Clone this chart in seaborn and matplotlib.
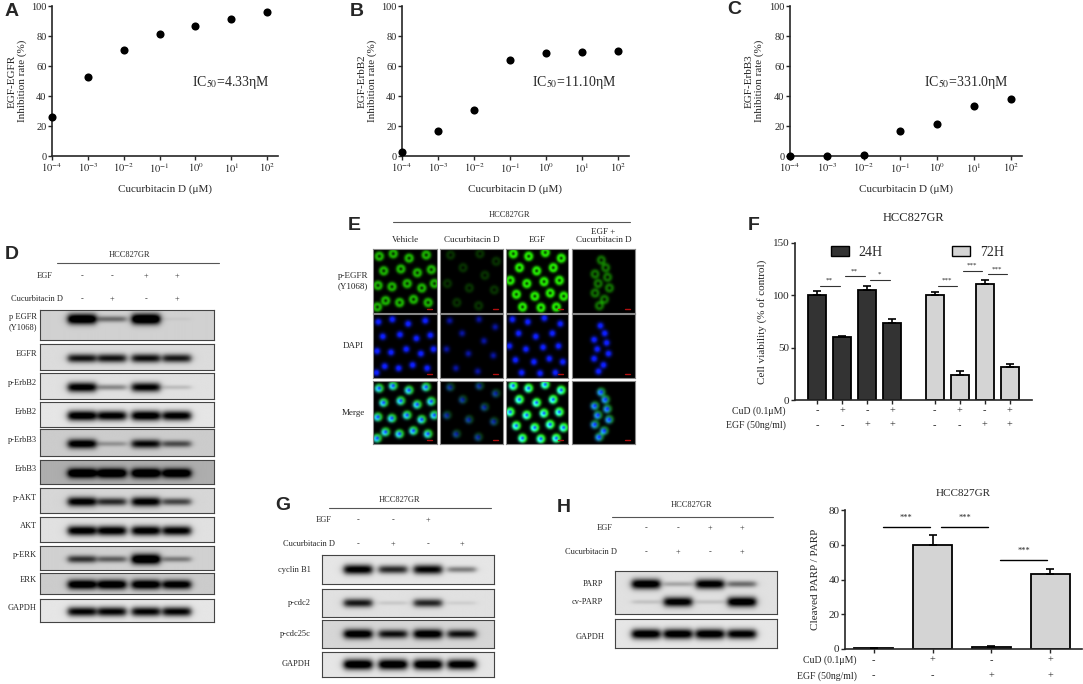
import numpy as np
import pandas as pd
import matplotlib
matplotlib.use('Agg')
import matplotlib.pyplot as plt
import matplotlib.transforms as mtransforms
import seaborn as sns
from matplotlib.patches import Patch

# ---------------- values ----------------
dose_ticks = ['$10^{-4}$', '$10^{-3}$', '$10^{-2}$', '$10^{-1}$', '$10^{0}$', '$10^{1}$', '$10^{2}$']
egfr_inhib = [26, 53, 71, 81.5, 87, 91.5, 96]
erbb2_inhib = [3, 16.5, 31, 64, 68.5, 69.5, 70]
erbb3_inhib = [0, 0, 1, 17, 21.5, 33.5, 38]
ic50_text = ['IC$_{50}$=4.33ηM', 'IC$_{50}$=11.10ηM', 'IC$_{50}$=331.0ηM']
dose_ylabels = ['EGF-EGFR\nInhibition rate (%)', 'EGF-ErbB2\nInhibition rate (%)',
                'EGF-ErbB3\nInhibition rate (%)']

# blot D: band darkness per lane (0 = none, 1 = black)
d_rows = ['p EGFR\n(Y1068)', 'EGFR', 'p-ErbB2', 'ErbB2', 'p-ErbB3', 'ErbB3',
          'p-AKT', 'AKT', 'p-ERK', 'ERK', 'GAPDH']
d_bands = [[0.95, 0.35, 1.0, 0.03],
           [0.7, 0.7, 0.72, 0.68],
           [0.85, 0.3, 0.8, 0.12],
           [0.9, 0.85, 0.9, 0.85],
           [0.8, 0.2, 0.7, 0.45],
           [0.85, 0.85, 0.85, 0.82],
           [0.8, 0.6, 0.8, 0.5],
           [0.85, 0.85, 0.85, 0.82],
           [0.55, 0.4, 0.95, 0.3],
           [0.85, 0.85, 0.85, 0.8],
           [0.8, 0.8, 0.8, 0.8]]
d_bg = [0.82, 0.86, 0.88, 0.9, 0.8, 0.68, 0.84, 0.88, 0.82, 0.8, 0.9]
egf_signs = ['-', '-', '+', '+']
cud_signs = ['-', '+', '-', '+']

# immunofluorescence E: cell centres per condition, p-EGFR / DAPI strength
e_conditions = ['Vehicle', 'Cucurbitacin D', 'EGF', 'EGF +\nCucurbitacin D']
e_rows = ['p-EGFR\n(Y1068)', 'DAPI', 'Merge']
e_cells = [
    [(0.08, 0.12), (0.30, 0.08), (0.55, 0.15), (0.82, 0.10), (0.15, 0.35), (0.42, 0.32),
     (0.68, 0.38), (0.90, 0.33), (0.06, 0.58), (0.28, 0.60), (0.52, 0.55), (0.75, 0.62),
     (0.95, 0.55), (0.18, 0.82), (0.40, 0.85), (0.62, 0.80), (0.85, 0.85), (0.05, 0.92)],
    [(0.15, 0.10), (0.62, 0.08), (0.88, 0.20), (0.35, 0.30), (0.70, 0.42), (0.10, 0.55),
     (0.45, 0.62), (0.85, 0.65), (0.25, 0.85), (0.60, 0.90)],
    [(0.10, 0.08), (0.35, 0.12), (0.62, 0.06), (0.88, 0.15), (0.20, 0.30), (0.48, 0.35),
     (0.75, 0.30), (0.05, 0.50), (0.32, 0.55), (0.60, 0.52), (0.85, 0.50), (0.15, 0.72),
     (0.45, 0.75), (0.70, 0.70), (0.92, 0.75), (0.25, 0.92), (0.55, 0.93), (0.80, 0.92)],
    [(0.45, 0.18), (0.52, 0.30), (0.35, 0.40), (0.55, 0.45), (0.40, 0.55), (0.58, 0.62),
     (0.35, 0.70), (0.50, 0.80), (0.42, 0.90)],
]
e_green = [0.75, 0.2, 1.0, 0.45]
e_blue = [1.0, 0.55, 1.0, 1.0]

# F: cell viability
via_time = ['24H'] * 4 + ['72H'] * 4
via_mean = [100, 60, 105, 74, 100, 24, 111, 32]
via_sem = [4, 1, 4, 3, 3, 4, 4, 2]
via_cud = ['-', '+', '-', '+', '-', '+', '-', '+']
via_egf = ['-', '-', '+', '+', '-', '-', '+', '+']
via_sig = [(0, 1, '**', 109), (1, 2, '**', 118), (2, 3, '*', 115),
           (4, 5, '***', 109), (5, 6, '***', 123), (6, 7, '***', 120)]

# G: cell-cycle blot
g_rows = ['cyclin B1', 'p-cdc2', 'p-cdc25c', 'GAPDH']
g_bands = [[0.85, 0.65, 0.8, 0.35],
           [0.7, 0.08, 0.65, 0.06],
           [0.85, 0.7, 0.85, 0.7],
           [0.95, 0.95, 0.95, 0.9]]
g_egf = ['-', '-', '+', '']

# H: PARP blot and quantification
h_parp = [0.9, 0.2, 0.85, 0.4]
h_cvparp = [0.1, 0.85, 0.1, 0.9]
h_gapdh = [0.9, 0.9, 0.9, 0.85]
cpp_mean = [0.3, 60, 1, 43]
cpp_sem = [0, 5.5, 0.5, 3]
cpp_cud = ['-', '+', '-', '+']
cpp_egf = ['-', '-', '+', '+']
cpp_sig = [(0, 1, '***', 70), (1, 2, '***', 70), (2, 3, '***', 51)]

# ---------------- figure ----------------
sns.set_style('ticks')
plt.rcParams['font.family'] = ['Liberation Serif', 'DejaVu Serif']
plt.rcParams['mathtext.fontset'] = 'stix'
plt.rcParams['axes.linewidth'] = 1.2

W, H = 1083, 684
fig = plt.figure(figsize=(W / 100, H / 100), dpi=100)


def pax(x0, y0, x1, y1):
    # axes from pixel box, y measured from top
    return fig.add_axes([x0 / W, 1 - y1 / H, (x1 - x0) / W, (y1 - y0) / H])


def ftext(x, y, s, **kw):
    kw.setdefault('fontsize', 6)
    kw.setdefault('va', 'center')
    kw.setdefault('ha', 'center')
    fig.text(x / W, 1 - y / H, s, **kw)


def letter(x, y, s):
    ftext(x, y, s, fontsize=14, fontweight='bold', family='Liberation Sans', ha='left')


def hline(x0, x1, y):
    fig.add_artist(plt.Line2D([x0 / W, x1 / W], [1 - y / H, 1 - y / H], color='#555555', lw=0.8))


def blot_strip(x0, y0, x1, y1, lanes, band_list, band_ys, bg):
    ax = pax(x0, y0, x1, y1)
    X, Y = np.meshgrid(np.linspace(x0, x1, 400), np.linspace(y0, y1, 120))
    img = np.full(X.shape, bg)
    for by, vals in zip(band_ys, band_list):
        for xc, v in zip(lanes, vals):
            hx = 1 / (1 + np.exp((np.abs(X - xc) - 14) / 1.8))
            sy = 1.3 + 2.6 * v
            img -= 1.15 * v * hx * np.exp(-0.5 * ((Y - by) / sy) ** 2)
    ax.imshow(np.clip(img, 0, 1), cmap='gray', vmin=0, vmax=1, extent=(x0, x1, y1, y0),
              aspect='auto', interpolation='bilinear')
    ax.set_xticks([])
    ax.set_yticks([])
    for s in ax.spines.values():
        s.set_linewidth(0.8)
        s.set_color('#444444')
    return ax


def fluo(x0, y0, x1, y1, pts, g_amp, b_amp, show_g, show_b):
    ax = pax(x0, y0, x1, y1)
    grid = np.linspace(0, 1, 110)
    X, Y = np.meshgrid(grid, grid)
    G = np.zeros_like(X)
    B = np.zeros_like(X)
    for cx, cy in pts:
        d = np.sqrt((X - cx) ** 2 + (Y - cy) ** 2)
        B += np.exp(-0.5 * (d / 0.036) ** 2)
        # cytoplasmic stain, brighter on one side of the nucleus
        dg = np.sqrt((X - cx - 0.015) ** 2 + (Y - cy + 0.01) ** 2)
        G += np.exp(-0.5 * ((dg - 0.045) / 0.025) ** 2)
    G = np.clip(G * g_amp * 0.9, 0, 1) * show_g
    B = np.clip(B * b_amp * 1.2, 0, 1) * show_b
    rgb = np.clip(np.dstack([0.15 * G + 0.05 * B, G + 0.12 * B, B]), 0, 1)
    ax.imshow(rgb, extent=(0, 1, 1, 0), aspect='auto', interpolation='bilinear')
    ax.plot([0.84, 0.92], [0.93, 0.93], color='#b01010', lw=1)
    ax.set_xlim(0, 1)
    ax.set_ylim(1, 0)
    ax.set_xticks([])
    ax.set_yticks([])
    for s in ax.spines.values():
        s.set_color('#888888')
        s.set_linewidth(0.8)


# ---- A, B, C : dose response ----
dose_df = pd.DataFrame({'pos': np.arange(7), 'EGFR': egfr_inhib,
                        'ErbB2': erbb2_inhib, 'ErbB3': erbb3_inhib})
boxes = [(52, 278), (402, 629), (790, 1022)]
ic_x = [3.9, 3.6, 3.65]
for (x0, x1), col, ylab, ic, ix in zip(boxes, ['EGFR', 'ErbB2', 'ErbB3'], dose_ylabels, ic50_text, ic_x):
    ax = pax(x0, 6, x1, 156)
    sns.scatterplot(data=dose_df, x='pos', y=col, ax=ax, color='black', s=34,
                    linewidth=0, clip_on=False, zorder=5)
    ax.set_xlim(0, 6.3)
    ax.set_ylim(0, 100)
    ax.set_xticks(dose_df['pos'])
    ax.set_xticklabels(dose_ticks)
    ax.set_yticks([0, 20, 40, 60, 80, 100])
    ax.tick_params(direction='out', length=3, width=1, labelsize=7.5, pad=1)
    sns.despine(ax=ax)
    ax.set_xlabel('Cucurbitacin D (μM)', fontsize=8)
    ax.xaxis.set_label_coords(0.5, -0.19)
    ax.set_ylabel(ylab, fontsize=8, linespacing=1.1)
    ax.yaxis.set_label_coords(-0.11, 0.5)
    ax.text(ix, 49, ic, fontsize=10, va='center')

letter(5, 11, 'A')
letter(350, 11, 'B')
letter(727, 9, 'C')

# ---- D : western blot ----
letter(5, 255, 'D')
ftext(130, 255, 'HCC827GR')
hline(57, 219, 263)
d_lanes = [82, 112, 146, 177]
ftext(53, 276, 'EGF', ha='right')
ftext(63, 299, 'Cucurbitacin D', ha='right')
for lx, e, c in zip(d_lanes, egf_signs, cud_signs):
    ftext(lx, 276, e)
    ftext(lx, 299, c)
d_strip_y = [(310, 340), (344, 370), (373, 399), (402, 427), (429, 456), (460, 484),
             (488, 513), (517, 542), (546, 570), (573, 594), (599, 622)]
for (y0, y1), lab, bands, bg, i in zip(d_strip_y, d_rows, d_bands, d_bg, range(11)):
    by = y0 + (0.3 if i == 0 else 0.55) * (y1 - y0)
    blot_strip(40, y0, 214, y1, d_lanes, [bands], [by], bg)
    ftext(37, (y0 + y1) / 2 - 3, lab, ha='right', linespacing=1.3)

# ---- E : immunofluorescence ----
letter(348, 225, 'E')
ftext(510, 215, 'HCC827GR')
hline(393, 630, 222)
e_cols = [(373, 437), (440, 503), (506, 568), (572, 635)]
e_rowy = [(249, 313), (314, 378), (381, 444)]
for (x0, x1), cond, pts, ga, ba in zip(e_cols, e_conditions, e_cells, e_green, e_blue):
    ftext((x0 + x1) / 2, 240 if '\n' not in cond else 236, cond, fontsize=6.5, linespacing=1.1)
    fluo(x0, e_rowy[0][0], x1, e_rowy[0][1], pts, ga, ba, 1, 0)
    fluo(x0, e_rowy[1][0], x1, e_rowy[1][1], pts, ga, ba, 0, 1)
    fluo(x0, e_rowy[2][0], x1, e_rowy[2][1], pts, ga, ba, 1, 1)
for (y0, y1), lab in zip(e_rowy, e_rows):
    ftext(353, (y0 + y1) / 2, lab, fontsize=6.5, linespacing=1.3)

# ---- F : viability bars ----
letter(748, 225, 'F')
via_pos = [0, 1, 2, 3, 4.7, 5.7, 6.7, 7.7]
via_df = pd.DataFrame({'pos': via_pos, 'mean': via_mean, 'time': via_time})
axF = pax(795, 243, 1032, 400)
pal = {'24H': '#333333', '72H': '#d4d4d4'}
sns.barplot(data=via_df, x='pos', y='mean', hue='time', palette=pal, native_scale=True,
            dodge=False, width=0.72, edgecolor='black', linewidth=1.3, legend=False,
            errorbar=None, ax=axF)
axF.errorbar(via_pos, via_mean, yerr=[np.zeros(8), via_sem], fmt='none', ecolor='black',
             elinewidth=1.2, capsize=3, capthick=1.2, zorder=4)
axF.set_xlim(-0.88, 8.6)
axF.set_ylim(0, 150)
axF.set_yticks([0, 50, 100, 150])
axF.set_xticks(via_pos)
axF.set_xticklabels([])
axF.tick_params(direction='out', length=3, width=1, labelsize=8, pad=1)
sns.despine(ax=axF)
axF.set_xlabel('')
axF.set_ylabel('Cell viability (% of control)', fontsize=8)
axF.yaxis.set_label_coords(-0.12, 0.5)
axF.set_title('HCC827GR', fontsize=9, pad=16)
trF = mtransforms.blended_transform_factory(axF.transData, axF.transAxes)
for p, c, e in zip(via_pos, via_cud, via_egf):
    axF.text(p, -0.07, c, transform=trF, ha='center', va='center', fontsize=7.5)
    axF.text(p, -0.16, e, transform=trF, ha='center', va='center', fontsize=7.5)
axF.text(-0.04, -0.07, 'CuD (0.1μM)', transform=axF.transAxes, ha='right', va='center', fontsize=7)
axF.text(-0.04, -0.16, 'EGF (50ng/ml)', transform=axF.transAxes, ha='right', va='center', fontsize=7)
for a, b, s, y in via_sig:
    axF.plot([via_pos[a] + 0.12, via_pos[b] - 0.1], [y, y], color='#333333', lw=0.8)
    axF.text((via_pos[a] + via_pos[b]) / 2, y + 3, s, ha='center', va='bottom', fontsize=5)
axF.legend(handles=[Patch(facecolor=pal[k], edgecolor='black', label=k) for k in pal],
           loc='center left', bbox_to_anchor=(0.15, 0.94), ncol=2, frameon=False,
           fontsize=10, handlelength=1.3, handleheight=0.8, handletextpad=0.7,
           columnspacing=5.0, borderpad=0, borderaxespad=0)

# ---- G : cell-cycle blot ----
letter(275, 506, 'G')
ftext(400, 500, 'HCC827GR')
hline(329, 491, 508)
g_lanes = [358, 393, 428, 462]
ftext(332, 520, 'EGF', ha='right')
ftext(335, 544, 'Cucurbitacin D', ha='right')
for lx, e, c in zip(g_lanes, g_egf, cud_signs):
    ftext(lx, 520, e)
    ftext(lx, 544, c)
g_strip_y = [(555, 584), (589, 617), (620, 648), (652, 677)]
g_bg = [0.9, 0.88, 0.84, 0.9]
for (y0, y1), lab, bands, bg in zip(g_strip_y, g_rows, g_bands, g_bg):
    blot_strip(322, y0, 494, y1, g_lanes, [bands], [(y0 + y1) / 2], bg)
    ftext(311, (y0 + y1) / 2, lab, ha='right')

# ---- H : PARP blot ----
letter(557, 507, 'H')
ftext(692, 505, 'HCC827GR')
hline(612, 773, 517)
h_lanes = [646, 678, 710, 742]
ftext(613, 528, 'EGF', ha='right')
ftext(617, 552, 'Cucurbitacin D', ha='right')
for lx, e, c in zip(h_lanes, egf_signs, cud_signs):
    ftext(lx, 528, e)
    ftext(lx, 552, c)
blot_strip(615, 571, 777, 614, h_lanes, [h_parp, h_cvparp], [584, 602], 0.88)
blot_strip(615, 619, 777, 648, h_lanes, [h_gapdh], [634], 0.9)
ftext(603, 584, 'PARP', ha='right')
ftext(603, 602, 'cv-PARP', ha='right')
ftext(605, 637, 'GAPDH', ha='right')

# ---- H : quantification ----
cpp_df = pd.DataFrame({'pos': np.arange(4), 'mean': cpp_mean})
axH = pax(845, 510, 1082, 649)
sns.barplot(data=cpp_df, x='pos', y='mean', native_scale=True, color='#d4d4d4', width=0.66,
            edgecolor='black', linewidth=1.3, errorbar=None, ax=axH)
axH.errorbar(cpp_df['pos'], cpp_mean, yerr=[np.zeros(4), cpp_sem], fmt='none', ecolor='black',
             elinewidth=1.2, capsize=3, capthick=1.2, zorder=4)
axH.set_xlim(-0.49, 3.54)
axH.set_ylim(0, 80)
axH.set_yticks([0, 20, 40, 60, 80])
axH.set_xticks(cpp_df['pos'])
axH.set_xticklabels([])
axH.tick_params(direction='out', length=3, width=1, labelsize=8, pad=1)
sns.despine(ax=axH)
axH.set_xlabel('')
axH.set_ylabel('Cleaved PARP / PARP', fontsize=8)
axH.yaxis.set_label_coords(-0.105, 0.5)
axH.set_title('HCC827GR', fontsize=8, pad=10)
trH = mtransforms.blended_transform_factory(axH.transData, axH.transAxes)
for p, c, e in zip(cpp_df['pos'], cpp_cud, cpp_egf):
    axH.text(p, -0.08, c, transform=trH, ha='center', va='center', fontsize=7.5)
    axH.text(p, -0.195, e, transform=trH, ha='center', va='center', fontsize=7.5)
axH.text(0.05, -0.08, 'CuD (0.1μM)', transform=axH.transAxes, ha='right', va='center', fontsize=7)
axH.text(0.05, -0.195, 'EGF (50ng/ml)', transform=axH.transAxes, ha='right', va='center', fontsize=7)
for a, b, s, y in cpp_sig:
    axH.plot([a + 0.15, b - 0.05], [y, y], color='black', lw=1)
    axH.text((a + b) / 2 + 0.05, y + 3, s, ha='center', va='bottom', fontsize=6)

fig.savefig('out.png', dpi=100)
